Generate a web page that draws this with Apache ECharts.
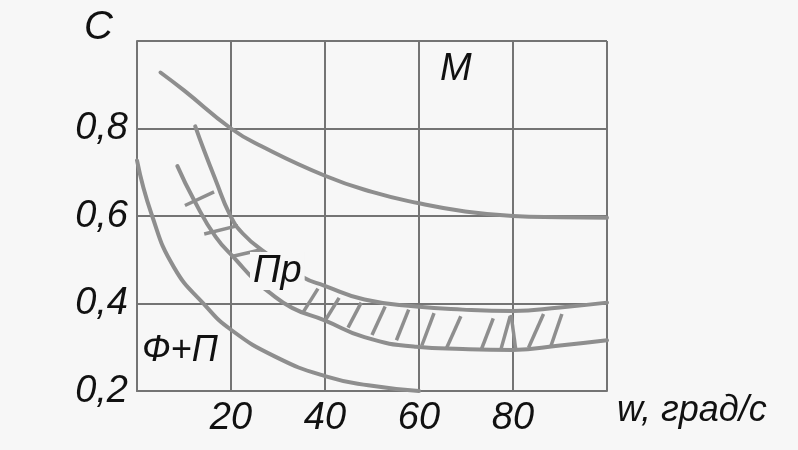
<!DOCTYPE html>
<html>
<head>
<meta charset="utf-8">
<script src="https://cdn.jsdelivr.net/npm/echarts@6/dist/echarts.min.js"></script>
<style>
html,body{margin:0;padding:0;background:#f7f7f7;}
#chart{width:798px;height:450px;}
</style>
</head>
<body>
<div id="chart"></div>
<script>
// ---- data ----
const xTickLabels = ['20', '40', '60', '80'];
const yTickLabels = ['0,2', '0,4', '0,6', '0,8'];

// curve M
const curveM = [[5,0.928],[10,0.887],[20,0.8],[26.4,0.76],[40,0.692],[50,0.655],[60,0.629],[69.5,0.611],[80,0.6],[90,0.597],[100,0.596]];
// curve Ф+П
const curveFP = [[0,0.727],[3.1,0.604],[7.9,0.482],[14.3,0.398],[20,0.34],[29.5,0.278],[40,0.234],[49.2,0.213],[60,0.2]];
// band Пр : upper and lower boundaries
const bandUpper = [[12.4,0.805],[14.3,0.749],[16.7,0.683],[19.8,0.602],[22.5,0.56],[27.1,0.518],[35.3,0.46],[39.8,0.441],[48.4,0.409],[59.4,0.393],[69.3,0.386],[80,0.383],[90,0.391],[100,0.402]];
const bandLower = [[8.6,0.714],[12.1,0.637],[16.7,0.553],[21.3,0.497],[24.9,0.455],[27.6,0.43],[33,0.39],[39.8,0.362],[48.4,0.323],[59.4,0.301],[69.3,0.296],[80,0.294],[90,0.304],[100,0.316]];
// hatch strokes inside the band: start (lower end) and end (upper end)
const hatchStart = [[10.2,0.624],[14.3,0.559],[20.4,0.508],[35.4,0.381],[40.2,0.364],[44.9,0.345],[50.0,0.328],[55.2,0.316],[60.6,0.304],[65.9,0.299],[73.3,0.296],[77.4,0.294],[80.6,0.294],[83.3,0.299],[88.1,0.304]];
const hatchEnd   = [[16.4,0.655],[21.5,0.578],[26.4,0.523],[38.5,0.434],[43.0,0.413],[47.7,0.402],[52.8,0.393],[57.8,0.386],[63.2,0.378],[68.9,0.371],[75.8,0.366],[79.4,0.371],[79.6,0.374],[86.5,0.376],[90.4,0.376]];

// ---- styles ----
const BG = '#f7f7f7';
const GRID = '#747474';
const CURVE = '#8e8e8e';
const FONT = 'Liberation Sans';

const chart = echarts.init(document.getElementById('chart'), null, {renderer: 'canvas'});

const hatchData = hatchStart.map((s, i) => ({coords: [s, hatchEnd[i]]}));

function curveSeries(name, data) {
  return {
    name: name, type: 'line', data: data, smooth: 0.5,
    showSymbol: false, symbol: 'none', silent: true,
    lineStyle: {color: CURVE, width: 4, cap: 'round'}, z: 3
  };
}

const yLabelMap = {};
[0.2, 0.4, 0.6, 0.8].forEach((v, i) => { yLabelMap[v.toFixed(1)] = yTickLabels[i]; });
const xLabelMap = {};
[20, 40, 60, 80].forEach((v, i) => { xLabelMap[String(v)] = xTickLabels[i]; });

const option = {
  backgroundColor: BG,
  animation: false,
  grid: {left: 137, right: 191, top: 41, bottom: 59, containLabel: false},
  xAxis: {
    type: 'value', min: 0, max: 100, interval: 20,
    name: 'w, град/с', nameLocation: 'end', nameGap: 10,
    nameTextStyle: {fontFamily: FONT, fontStyle: 'italic', fontSize: 36, color: '#111',
      align: 'left', verticalAlign: 'top', padding: [2, 0, 0, 0]},
    axisLine: {show: true, lineStyle: {color: GRID, width: 2}},
    axisTick: {show: false},
    splitLine: {show: true, lineStyle: {color: GRID, width: 2}},
    axisLabel: {
      margin: 8, fontFamily: FONT, fontStyle: 'italic', fontSize: 38, color: '#111',
      formatter: v => xLabelMap[String(v)] || ''
    }
  },
  yAxis: {
    type: 'value', min: 0.2, max: 1.0, interval: 0.2,
    name: 'C', nameLocation: 'end', nameGap: 13,
    nameTextStyle: {fontFamily: FONT, fontStyle: 'italic', fontSize: 40, color: '#111',
      align: 'right', verticalAlign: 'middle', padding: [0, 24, 0, 0]},
    axisLine: {show: true, lineStyle: {color: GRID, width: 2}},
    axisTick: {show: false},
    splitLine: {show: true, lineStyle: {color: GRID, width: 2}},
    axisLabel: {
      margin: 9, fontFamily: FONT, fontStyle: 'italic', fontSize: 38, color: '#111',
      formatter: v => yLabelMap[Number(v).toFixed(1)] || ''
    }
  },
  series: [
    curveSeries('M', curveM),
    curveSeries('Ф+П', curveFP),
    curveSeries('Пр верх', bandUpper),
    curveSeries('Пр низ', bandLower),
    {
      name: 'штриховка', type: 'lines', coordinateSystem: 'cartesian2d',
      polyline: false, silent: true, data: hatchData, z: 3,
      lineStyle: {color: CURVE, width: 3.5, opacity: 1, curveness: 0}
    }
  ],
  graphic: [
    {type: 'text', left: 440, top: 50, z: 10,
      style: {text: 'M', fontFamily: FONT, fontStyle: 'italic', fontSize: 38, fill: '#111'}},
    {type: 'text', left: 250, top: 252, z: 10,
      style: {text: 'Пр', fontFamily: FONT, fontStyle: 'italic', fontSize: 38, fill: '#111',
        backgroundColor: BG, padding: [0, 3, 0, 3]}},
    {type: 'text', left: 142, top: 333, z: 10,
      style: {text: 'Ф+П', fontFamily: FONT, fontStyle: 'italic', fontSize: 36, fill: '#111'}}
  ]
};
chart.setOption(option);
</script>
</body>
</html>
